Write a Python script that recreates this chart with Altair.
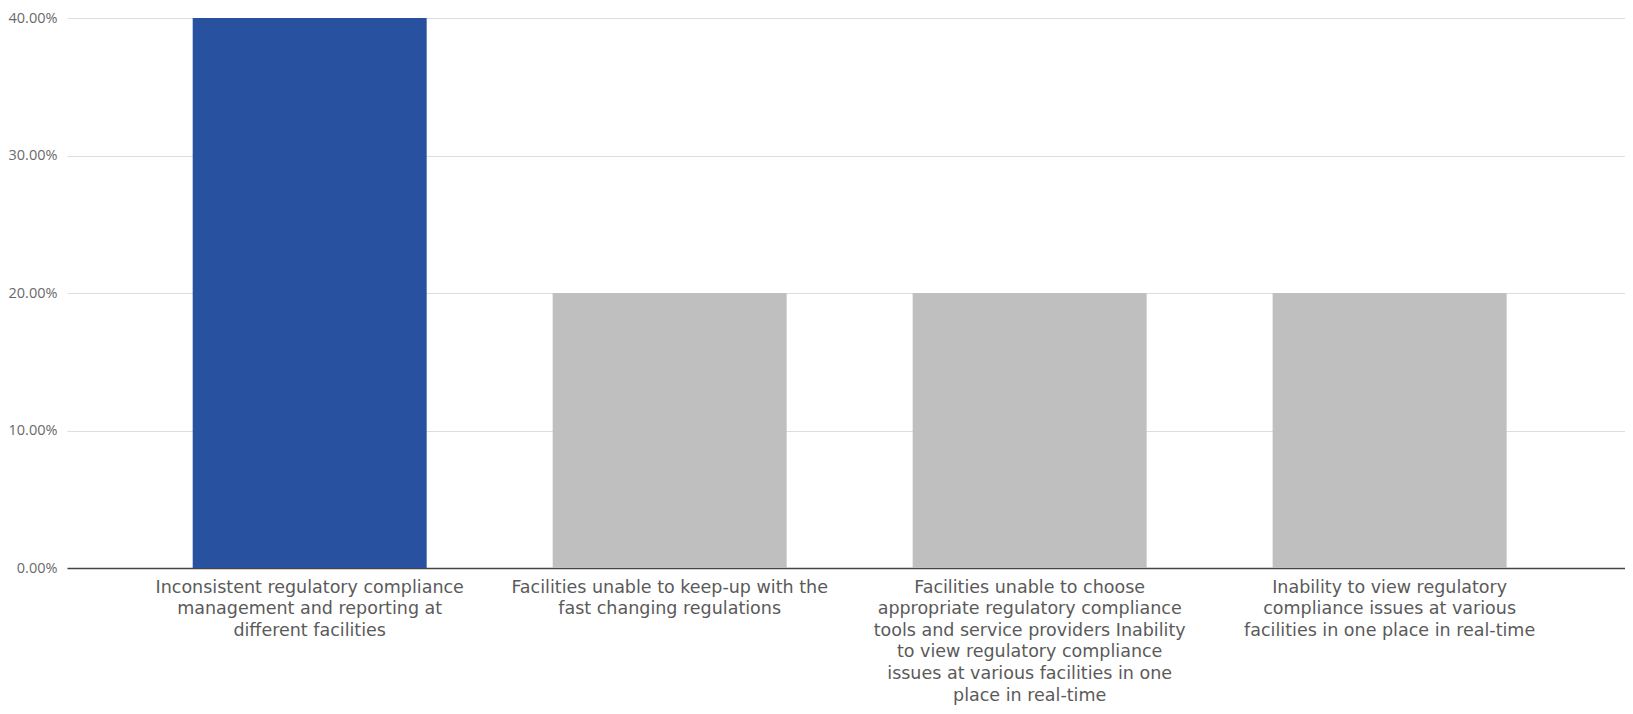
import altair as alt
import pandas as pd

categories = [
    "Inconsistent regulatory compliance management and reporting at different facilities",
    "Facilities unable to keep-up with the fast changing regulations",
    "Facilities unable to choose appropriate regulatory compliance tools and service providers Inability to view regulatory compliance issues at various facilities in one place in real-time",
    "Inability to view regulatory compliance issues at various facilities in one place in real-time",
]
label_lines = [
    ["Inconsistent regulatory compliance", "management and reporting at", "different facilities"],
    ["Facilities unable to keep-up with the", "fast changing regulations"],
    ["Facilities unable to choose", "appropriate regulatory compliance", "tools and service providers Inability",
     "to view regulatory compliance", "issues at various facilities in one", "place in real-time"],
    ["Inability to view regulatory", "compliance issues at various", "facilities in one place in real-time"],
]
values = [0.40, 0.20, 0.20, 0.20]
colors = ["#2852a0", "#bfbfbf", "#bfbfbf", "#bfbfbf"]
y_ticks = [0.0, 0.1, 0.2, 0.3, 0.4]

df = pd.DataFrame({
    "category": categories,
    "value": values,
    "color": colors,
})

label_map = {c: "\n".join(l) for c, l in zip(categories, label_lines)}
expr_parts = " : ".join(
    [f"datum.value == {c!r} ? {label_map[c]!r}" for c in categories] + ["datum.label"]
)
label_expr = f"split({expr_parts}, '\\n')"

chart = alt.Chart(df).mark_bar().encode(
    x=alt.X(
        "category:N",
        sort=categories,
        scale=alt.Scale(paddingInner=0.35, paddingOuter=0.339, align=0.515),
        axis=alt.Axis(
            title=None,
            labelAngle=0,
            labelExpr=label_expr,
            labelFont="DejaVu Sans",
            labelFontSize=17.5,
            labelLineHeight=21.6,
            labelColor="#5a5a5a",
            labelPadding=10,
            labelLimit=0,
            ticks=False,
            domain=True,
            domainColor="#444444",
            domainWidth=1.5,
            labelBaseline="top",
        ),
    ),
    y=alt.Y(
        "value:Q",
        scale=alt.Scale(domain=[0, 0.4], nice=False),
        axis=alt.Axis(
            title=None,
            values=y_ticks,
            format=".2%",
            labelFont="Open Sans",
            labelFontSize=14.5,
            labelColor="#6a6a6a",
            labelPadding=10,
            ticks=False,
            domain=False,
            gridColor="#dddddd",
            gridWidth=1.2,
        ),
    ),
    color=alt.Color("color:N", scale=None, legend=None),
).properties(
    width=1558,
    height=550,
    autosize=alt.AutoSizeParams(type="none"),
    padding={"left": 59, "top": 10, "right": 0, "bottom": 138},
).configure_view(stroke=None)

chart.save("out.html", embed_options={"renderer": "svg", "actions": False})
